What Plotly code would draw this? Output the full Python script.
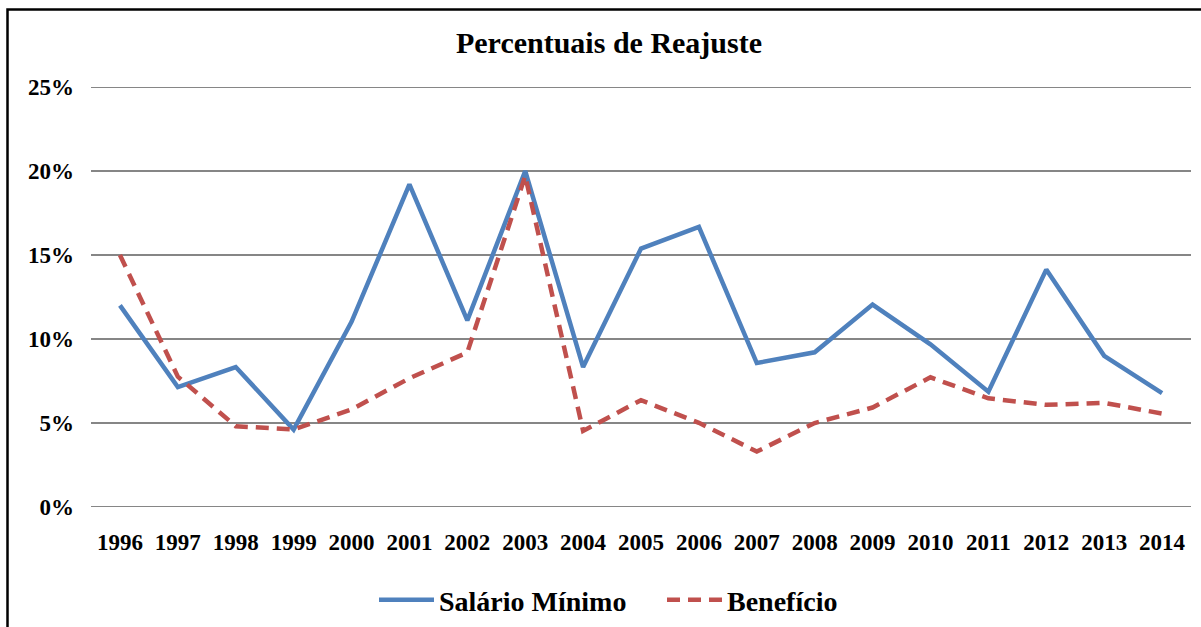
import plotly.graph_objects as go

years = [str(y) for y in range(1996, 2015)]
salario_minimo = [12.0, 7.14, 8.33, 4.61, 11.02, 19.2, 11.11, 20.0, 8.33, 15.38,
                  16.67, 8.57, 9.21, 12.05, 9.68, 6.86, 14.13, 9.0, 6.78]
beneficio = [15.0, 7.76, 4.81, 4.61, 5.81, 7.66, 9.20, 19.71, 4.53, 6.36,
             5.01, 3.30, 5.00, 5.92, 7.72, 6.47, 6.08, 6.20, 5.56]
y_ticks = [0, 0.05, 0.10, 0.15, 0.20, 0.25]
y_tick_labels = ["0%", "5%", "10%", "15%", "20%", "25%"]

W, H = 1201, 627
L, R, T, B = 91, 10, 87, 120
pw, ph = W - L - R, H - T - B

def px_x(px):
    return (px - L) / pw

def px_y(py):
    return (H - B - py) / ph

fig = go.Figure()
fig.add_trace(go.Scatter(
    x=years, y=[v / 100 for v in salario_minimo], mode="lines",
    name="Salário Mínimo", line=dict(color="#4F81BD", width=4.5)))
fig.add_trace(go.Scatter(
    x=years, y=[v / 100 for v in beneficio], mode="lines",
    name="Benefício", line=dict(color="#C0504D", width=4.5, dash="13px,8px")))

serif = "Liberation Serif"

fig.update_layout(
    width=W, height=H,
    margin=dict(l=L, r=R, t=T, b=B, autoexpand=False),
    paper_bgcolor="white", plot_bgcolor="white",
    font=dict(family=serif, color="black"),
    title=dict(text="<b>Percentuais de Reajuste</b>", x=609 / W, xanchor="center",
               y=1 - 42 / H, yanchor="middle", yref="container",
               font=dict(family=serif, size=30, color="black")),
    xaxis=dict(type="category", range=[-0.5, 18.5], showgrid=False, showline=False,
               ticks="", tickfont=dict(family=serif, size=23, color="black", weight="bold"),
               ticklabelstandoff=19, fixedrange=True),
    yaxis=dict(range=[0, 0.25], tickvals=y_ticks, ticktext=y_tick_labels,
               showgrid=True, gridcolor="#868686", gridwidth=2,
               zeroline=False, showline=False, ticks="",
               tickfont=dict(family=serif, size=23, color="black", weight="bold"),
               ticklabelstandoff=16, fixedrange=True),
    legend=dict(orientation="h", x=px_x(374), xanchor="left", y=px_y(600), yanchor="middle",
                font=dict(family=serif, size=28, color="black", weight="bold"),
                itemwidth=55, entrywidth=218, bgcolor="rgba(0,0,0,0)"),
    showlegend=True,
)

# gridlines at the range edges (0% and 25%)
for v in (0, 0.25):
    fig.add_shape(type="line", xref="paper", yref="y", x0=0, x1=1, y0=v, y1=v,
                  line=dict(color="#868686", width=2), layer="below")

# outer chart border
fig.add_shape(type="rect", xref="paper", yref="paper",
              x0=px_x(7.5), x1=px_x(1210), y0=px_y(9.5), y1=px_y(640),
              line=dict(color="black", width=2.5), fillcolor="rgba(0,0,0,0)")

fig.write_html("out.html", config={"displayModeBar": False},
               post_script="document.body.style.margin='0';")
